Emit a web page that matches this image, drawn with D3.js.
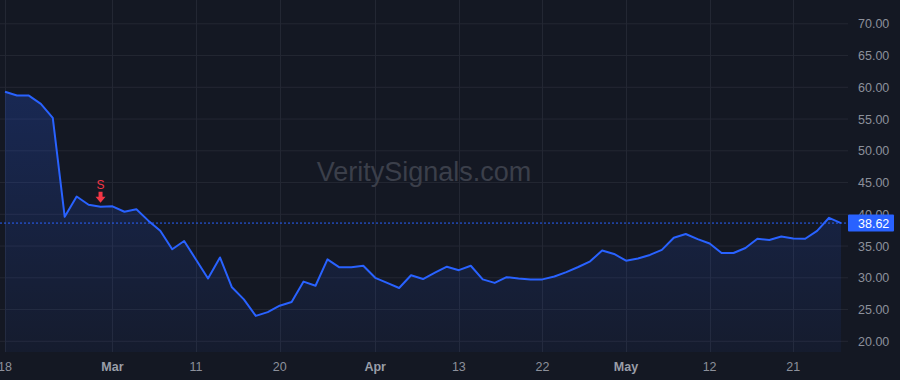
<!DOCTYPE html>
<html>
<head>
<meta charset="utf-8">
<script src="https://cdn.jsdelivr.net/npm/d3@7"></script>
<style>
  html, body { margin: 0; padding: 0; background: #141823; }
  svg { display: block; }
</style>
</head>
<body>
<div id="chart"></div>
<script>
// closing prices, one per bar
const closes = [
  59.3, 58.7, 58.7, 57.4, 55.2, 39.6, 42.8, 41.5, 41.2, 41.25,
  40.4, 40.8, 39.0, 37.4, 34.5, 35.8, 32.85, 29.9, 33.2, 28.5,
  26.6, 24.0, 24.6, 25.6, 26.2, 29.4, 28.75, 32.9, 31.65, 31.65,
  31.9, 30.0, 29.2, 28.4, 30.4, 29.8, 30.8, 31.75, 31.2, 31.9,
  29.75, 29.2, 30.1, 29.9, 29.75, 29.75, 30.2, 30.9, 31.7, 32.6,
  34.3, 33.75, 32.7, 33.05, 33.6, 34.4, 36.3, 36.9, 36.1, 35.4,
  33.9, 33.9, 34.7, 36.15, 35.95, 36.5, 36.2, 36.15, 37.4, 39.45,
  38.62
]
const tickIdx = [0, 9, 16, 23, 31, 38, 45, 52, 59, 66]
const tickLabels = ["18", "Mar", "11", "20", "Apr", "13", "22", "May", "12", "21"]
const monthLabels = ["Mar", "Apr", "May"]
const yTicks = [20, 25, 30, 35, 40, 45, 50, 55, 60, 65, 70]
const signals = [{ i: 8, label: "S" }]
const lastPrice = 38.62

const W = 900, H = 380,
  plotRight = 848, plotBottom = 352

const svg = d3.select("#chart").append("svg")
  .attr("width", W)
  .attr("height", H)
  .style("font-family", "'Liberation Sans', Arial, sans-serif")

svg.append("rect").attr("width", W).attr("height", H).attr("fill", "#141823")

const x = d3.scaleLinear().domain([0, closes.length - 1]).range([5, 841])
const y = d3.scaleLinear().domain([20, 70]).range([341.3, 23.8])

// grid
svg.append("g").selectAll("line").data(yTicks).join("line")
  .attr("x1", 0).attr("x2", plotRight)
  .attr("y1", d => y(d)).attr("y2", d => y(d))
  .attr("stroke", "#232733").attr("stroke-width", 1)

svg.append("g").selectAll("line").data(tickIdx).join("line")
  .attr("x1", d => Math.round(x(d)) + 0.5).attr("x2", d => Math.round(x(d)) + 0.5)
  .attr("y1", 0).attr("y2", plotBottom)
  .attr("stroke", "#232733").attr("stroke-width", 1)

// watermark
svg.append("text")
  .attr("x", 424).attr("y", 181)
  .attr("text-anchor", "middle")
  .attr("font-size", 27)
  .attr("fill", "#3b3f4a")
  .text("VeritySignals.com")

// area
const grad = svg.append("defs").append("linearGradient")
  .attr("id", "fade").attr("x1", 0).attr("x2", 0).attr("y1", 0).attr("y2", 1)
grad.append("stop").attr("offset", "0%").attr("stop-color", "#2962ff").attr("stop-opacity", 0.22)
grad.append("stop").attr("offset", "100%").attr("stop-color", "#2962ff").attr("stop-opacity", 0.05)

const area = d3.area()
  .x((d, i) => x(i))
  .y0(plotBottom)
  .y1(d => y(d))
svg.append("path").datum(closes)
  .attr("d", area)
  .attr("fill", "url(#fade)")

// last price dotted line
svg.append("line")
  .attr("x1", 0).attr("x2", plotRight)
  .attr("y1", y(lastPrice)).attr("y2", y(lastPrice))
  .attr("stroke", "#2962ff").attr("stroke-width", 1)
  .attr("stroke-dasharray", "2,2")

const line = d3.line().x((d, i) => x(i)).y(d => y(d))
svg.append("path").datum(closes)
  .attr("d", line)
  .attr("fill", "none")
  .attr("stroke", "#2962ff")
  .attr("stroke-width", 2)
  .attr("stroke-linejoin", "round")

// sell marker
const sig = svg.append("g").selectAll("g").data(signals).join("g")
  .attr("transform", d => "translate(" + x(d.i) + "," + (y(closes[d.i]) - 4) + ")")
sig.append("path")
  .attr("d", "M-2,-11 L2,-11 L2,-6 L5,-6 L0,0 L-5,-6 L-2,-6 Z")
  .attr("fill", "#f23645")
sig.append("text")
  .attr("y", -14)
  .attr("text-anchor", "middle")
  .attr("font-size", 12)
  .attr("fill", "#f23645")
  .text(d => d.label)

// y axis labels
svg.append("g").selectAll("text").data(yTicks).join("text")
  .attr("x", 858).attr("y", d => y(d) + 4.5)
  .attr("font-size", 12.5)
  .attr("fill", "#8c909b")
  .text(d => d3.format(".2f")(d))

// price tag
svg.append("rect")
  .attr("x", plotRight).attr("y", y(lastPrice) - 8.5)
  .attr("width", 46).attr("height", 17)
  .attr("rx", 1)
  .attr("fill", "#2962ff")
svg.append("text")
  .attr("x", 858).attr("y", y(lastPrice) + 4.5)
  .attr("font-size", 12.5)
  .attr("fill", "#ffffff")
  .text(d3.format(".2f")(lastPrice))

// x axis labels
svg.append("g").selectAll("text").data(tickIdx).join("text")
  .attr("x", d => x(d))
  .attr("y", 371)
  .attr("text-anchor", "middle")
  .attr("font-size", 12.5)
  .attr("font-weight", (d, i) => monthLabels.includes(tickLabels[i]) ? "bold" : "normal")
  .attr("fill", (d, i) => monthLabels.includes(tickLabels[i]) ? "#9a9ea8" : "#8c909b")
  .text((d, i) => tickLabels[i])
</script>
</body>
</html>
